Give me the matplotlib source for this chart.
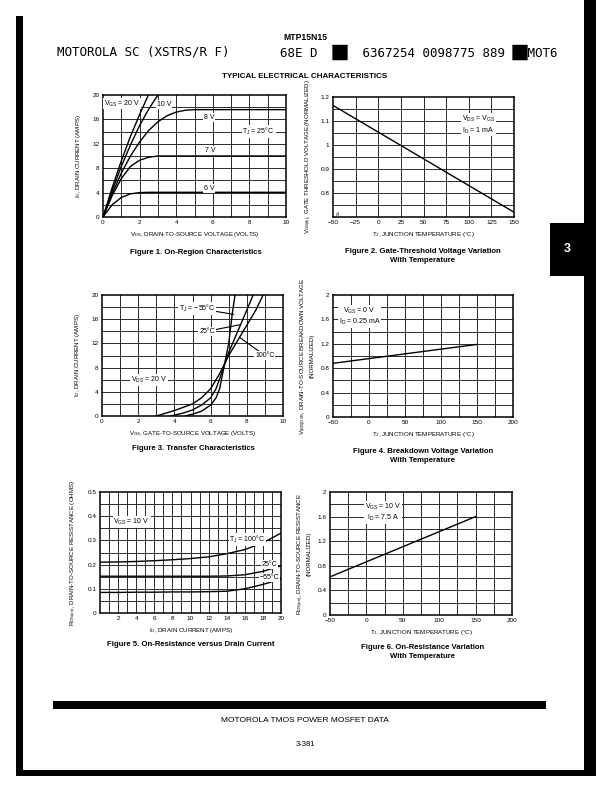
import matplotlib
matplotlib.use("Agg")
import matplotlib.pyplot as plt
from matplotlib.patches import Rectangle
import numpy as np

plt.rcParams['font.family'] = ['Liberation Sans', 'DejaVu Sans']
plt.rcParams['mathtext.default'] = 'regular'

# ---------------- Data ----------------
# Figure 1: On-region characteristics (VDS volts, ID amps)
f1_vds_20 = [0, 0.5, 1.0, 1.5, 2.0, 2.48]
f1_id_20 = [0, 4.8, 9.2, 13.2, 16.8, 20.0]
f1_vds_10 = [0, 0.5, 1.0, 1.5, 2.0, 2.5, 3.0]
f1_id_10 = [0, 4.3, 8.3, 11.8, 15.0, 17.7, 20.0]
f1_vds_8 = [0, 0.5, 1.0, 1.5, 2.0, 2.5, 3.0, 3.5, 4.0, 4.5, 5.0, 10.0]
f1_id_8 = [0, 3.8, 7.2, 10.0, 12.3, 14.2, 15.6, 16.6, 17.2, 17.5, 17.6, 17.6]
f1_vds_7 = [0, 0.5, 1.0, 1.5, 2.0, 2.5, 3.0, 10.0]
f1_id_7 = [0, 3.5, 6.3, 8.3, 9.3, 9.8, 10.0, 10.0]
f1_vds_6 = [0, 0.5, 1.0, 1.5, 2.0, 2.5, 10.0]
f1_id_6 = [0, 2.0, 3.2, 3.8, 4.0, 4.05, 4.05]

# Figure 2: gate threshold vs temperature
f2_tj = [-50, 150]
f2_vth = [1.165, 0.72]

# Figure 3: transfer characteristics (VGS volts, ID amps)
f3_vgs_m55 = [4.6, 5.0, 5.5, 6.0, 6.3, 6.5, 6.7, 7.0, 7.2, 7.35]
f3_id_m55 = [0, 0.3, 0.8, 1.8, 3.0, 4.5, 7.5, 12.0, 17.0, 20.0]
f3_vgs_25 = [3.8, 4.5, 5.0, 5.5, 6.0, 6.3, 6.6, 7.0, 7.5, 8.0, 8.35]
f3_id_25 = [0, 0.5, 1.0, 1.8, 3.0, 4.5, 7.0, 10.5, 14.0, 17.5, 20.0]
f3_vgs_100 = [3.0, 4.0, 5.0, 5.5, 6.0, 6.5, 7.0, 7.5, 8.0, 8.5, 8.9]
f3_id_100 = [0, 0.9, 2.0, 3.0, 4.5, 7.0, 10.0, 12.5, 15.0, 17.5, 20.0]

# Figure 4: breakdown voltage vs temperature
f4_tj = [-50, 150]
f4_bv = [0.88, 1.19]

# Figure 5: on-resistance vs drain current
f5_id = [0, 2, 4, 6, 8, 10, 12, 14, 16, 18, 20]
f5_r_100 = [0.210, 0.211, 0.213, 0.216, 0.220, 0.225, 0.232, 0.245, 0.262, 0.290, 0.330]
f5_r_25 = [0.152, 0.152, 0.152, 0.152, 0.152, 0.152, 0.152, 0.153, 0.158, 0.172, 0.195]
f5_r_m55 = [0.085, 0.085, 0.086, 0.086, 0.087, 0.087, 0.088, 0.090, 0.100, 0.118, 0.140]

# Figure 6: on-resistance vs temperature
f6_tj = [-50, 150]
f6_r = [0.62, 1.6]

W, H = 612, 792
fig = plt.figure(figsize=(W / 100, H / 100), dpi=100)

def px_axes(l, t, r, b):
    return fig.add_axes([l / W, 1 - b / H, (r - l) / W, (b - t) / H])

GRID = dict(color='#2a2a2a', linewidth=0.7)
TICKFS = 4.6
LABFS = 4.4
ANNFS = 5.0
BOX = dict(facecolor='white', edgecolor='none', pad=0.6)

def style(ax, xlim, ylim, xticks, yticks, xgrid, ygrid, xtl=None, ytl=None):
    ax.set_xlim(*xlim)
    ax.set_ylim(*ylim)
    ax.set_xticks(xticks)
    ax.set_yticks(yticks)
    if xtl is not None:
        ax.set_xticklabels(xtl)
    if ytl is not None:
        ax.set_yticklabels(ytl)
    for g in xgrid:
        ax.axvline(g, zorder=0, **GRID)
    for g in ygrid:
        ax.axhline(g, zorder=0, **GRID)
    ax.tick_params(length=0, labelsize=TICKFS, pad=2.5)
    for s in ax.spines.values():
        s.set_linewidth(1.1)
        s.set_color('black')

LW = 1.0

# ---- Figure 1 ----
ax1 = px_axes(103, 95, 286, 217)
style(ax1, (0, 10), (0, 20), [0, 2, 4, 6, 8, 10], [0, 4, 8, 12, 16, 20],
      np.arange(1, 10), np.arange(2, 20, 2))
for xs, ys in [(f1_vds_20, f1_id_20), (f1_vds_10, f1_id_10), (f1_vds_8, f1_id_8),
               (f1_vds_7, f1_id_7), (f1_vds_6, f1_id_6)]:
    ax1.plot(xs, ys, color='black', lw=LW, clip_on=True)
ax1.text(1.05, 18.6, r"V$_{GS}$ = 20 V", fontsize=ANNFS, ha='center', va='center', bbox=BOX)
ax1.text(3.35, 18.4, "10 V", fontsize=ANNFS, ha='center', va='center', bbox=BOX)
ax1.text(5.8, 16.35, "8 V", fontsize=ANNFS, ha='center', va='center', bbox=BOX)
ax1.text(8.5, 14.0, r"T$_J$ = 25°C", fontsize=ANNFS, ha='center', va='center', bbox=BOX)
ax1.text(5.85, 10.85, "7 V", fontsize=ANNFS, ha='center', va='center', bbox=BOX)
ax1.text(5.8, 4.7, "6 V", fontsize=ANNFS, ha='center', va='center', bbox=BOX)
ax1.set_xlabel(r"V$_{DS}$, DRAIN-TO-SOURCE VOLTAGE (VOLTS)", fontsize=LABFS, labelpad=3)
ax1.set_ylabel(r"I$_D$, DRAIN CURRENT (AMPS)", fontsize=LABFS, labelpad=7)

# ---- Figure 2 ----
ax2 = px_axes(333, 97, 514, 217)
style(ax2, (-50, 150), (0.7, 1.2), np.arange(-50, 151, 25), [0.8, 0.9, 1.0, 1.1, 1.2],
      np.arange(-25, 150, 25), np.arange(0.75, 1.2, 0.05),
      xtl=["\u221250", "\u221225", "0", "25", "50", "75", "100", "125", "150"],
      ytl=["0.8", "0.9", "1", "1.1", "1.2"])
ax2.plot(f2_tj, f2_vth, color='black', lw=LW)
ax2.text(-47, 0.715, "\u2248", fontsize=5, ha='left', va='center', rotation=90)
ax2.text(92, 1.085, r"V$_{DS}$ = V$_{GS}$" "\n" r"I$_D$ = 1 mA", fontsize=ANNFS,
         ha='left', va='center', linespacing=1.2, bbox=BOX)
ax2.set_xlabel(r"T$_J$, JUNCTION TEMPERATURE (°C)", fontsize=LABFS, labelpad=3)
ax2.set_ylabel(r"V$_{GS(th)}$, GATE THRESHOLD VOLTAGE (NORMALIZED)", fontsize=LABFS, labelpad=5)

# ---- Figure 3 ----
ax3 = px_axes(102, 295, 283, 416)
style(ax3, (0, 10), (0, 20), [0, 2, 4, 6, 8, 10], [0, 4, 8, 12, 16, 20],
      np.arange(1, 10), np.arange(2, 20, 2))
for xs, ys in [(f3_vgs_m55, f3_id_m55), (f3_vgs_25, f3_id_25), (f3_vgs_100, f3_id_100)]:
    ax3.plot(xs, ys, color='black', lw=LW)
AP = dict(arrowstyle='-', color='black', lw=0.8, shrinkA=0, shrinkB=0)
ax3.annotate("T$_J$ = \u221255°C", xy=(7.28, 16.8), xytext=(5.25, 17.8), fontsize=ANNFS,
             ha='center', va='center', bbox=BOX, arrowprops=AP)
ax3.annotate("25°C", xy=(7.64, 15.1), xytext=(5.8, 14.0), fontsize=ANNFS,
             ha='center', va='center', bbox=BOX, arrowprops=AP)
ax3.annotate("100°C", xy=(7.6, 13.0), xytext=(9.0, 10.0), fontsize=ANNFS,
             ha='center', va='center', bbox=BOX, arrowprops=AP)
ax3.text(2.6, 5.9, r"V$_{DS}$ = 20 V", fontsize=ANNFS, ha='center', va='center', bbox=BOX)
ax3.set_xlabel(r"V$_{GS}$, GATE-TO-SOURCE VOLTAGE (VOLTS)", fontsize=LABFS, labelpad=3)
ax3.set_ylabel(r"I$_D$, DRAIN CURRENT (AMPS)", fontsize=LABFS, labelpad=7)

# ---- Figure 4 ----
ax4 = px_axes(333, 295, 513, 417)
style(ax4, (-50, 200), (0, 2), np.arange(-50, 201, 50), [0, 0.4, 0.8, 1.2, 1.6, 2.0],
      np.arange(-25, 200, 25), np.arange(0.2, 2.0, 0.2),
      xtl=["\u221250", "0", "50", "100", "150", "200"],
      ytl=["0", "0.4", "0.8", "1.2", "1.6", "2"])
ax4.plot(f4_tj, f4_bv, color='black', lw=LW)
ax4.text(-13, 1.65, r"V$_{GS}$ = 0 V" "\n" r"I$_D$ = 0.25 mA", fontsize=ANNFS,
         ha='center', va='center', linespacing=1.2, bbox=BOX)
ax4.set_xlabel(r"T$_J$, JUNCTION TEMPERATURE (°C)", fontsize=LABFS, labelpad=3)
ax4.set_ylabel(r"V$_{(BR)DSS}$, DRAIN-TO-SOURCE BREAKDOWN VOLTAGE" "\n" "(NORMALIZED)",
               fontsize=LABFS, labelpad=4, linespacing=1.2)

# ---- Figure 5 ----
ax5 = px_axes(100, 492, 281, 613)
style(ax5, (0, 20), (0, 0.5), np.arange(2, 21, 2), [0, 0.1, 0.2, 0.3, 0.4, 0.5],
      np.arange(1, 20), np.arange(0.05, 0.5, 0.05),
      ytl=["0", "0.1", "0.2", "0.3", "0.4", "0.5"])
for ys in [f5_r_100, f5_r_25, f5_r_m55]:
    ax5.plot(f5_id, ys, color='black', lw=LW)
ax5.text(3.5, 0.376, r"V$_{GS}$ = 10 V", fontsize=ANNFS, ha='center', va='center', bbox=BOX)
ax5.text(16.3, 0.304, r"T$_J$ = 100°C", fontsize=ANNFS, ha='center', va='center', bbox=BOX)
ax5.text(18.7, 0.200, "25°C", fontsize=ANNFS, ha='center', va='center', bbox=BOX)
ax5.text(18.7, 0.147, "\u221255°C", fontsize=ANNFS, ha='center', va='center', bbox=BOX)
ax5.set_xlabel(r"I$_D$, DRAIN CURRENT (AMPS)", fontsize=LABFS, labelpad=3)
ax5.set_ylabel(r"R$_{DS(on)}$, DRAIN-TO-SOURCE RESISTANCE (OHMS)", fontsize=LABFS, labelpad=6)

# ---- Figure 6 ----
ax6 = px_axes(330, 492, 512, 615)
style(ax6, (-50, 200), (0, 2), np.arange(-50, 201, 50), [0, 0.4, 0.8, 1.2, 1.6, 2.0],
      np.arange(-25, 200, 25), np.arange(0.2, 2.0, 0.2),
      xtl=["\u221250", "0", "50", "100", "150", "200"],
      ytl=["0", "0.4", "0.8", "1.2", "1.6", "2"])
ax6.plot(f6_tj, f6_r, color='black', lw=LW)
ax6.text(23, 1.67, r"V$_{GS}$ = 10 V" "\n" r"I$_D$ = 7.5 A", fontsize=ANNFS,
         ha='center', va='center', linespacing=1.2, bbox=BOX)
ax6.set_xlabel(r"T$_J$, JUNCTION TEMPERATURE (°C)", fontsize=LABFS, labelpad=3)
ax6.set_ylabel(r"R$_{DS(on)}$, DRAIN-TO-SOURCE RESISTANCE" "\n" "(NORMALIZED)",
               fontsize=LABFS, labelpad=4, linespacing=1.2)

# ---------------- Captions and page text ----------------
def ftext(x, y, s, **kw):
    fig.text(x / W, 1 - y / H, s, **kw)

CAP = dict(fontsize=5.6, fontweight='bold', ha='center', va='center', linespacing=1.3)
ftext(196, 252, "Figure 1. On-Region Characteristics", **CAP)
ftext(423, 256, "Figure 2. Gate-Threshold Voltage Variation\nWith Temperature", **CAP)
ftext(193, 449, "Figure 3. Transfer Characteristics", **CAP)
ftext(423, 456, "Figure 4. Breakdown Voltage Variation\nWith Temperature", **CAP)
ftext(191, 645, "Figure 5. On-Resistance versus Drain Current", **CAP)
ftext(423, 652, "Figure 6. On-Resistance Variation\nWith Temperature", **CAP)

ftext(305, 37, "MTP15N15", fontsize=6.2, fontweight='bold', ha='center', va='center')
ftext(57, 52, "MOTOROLA SC (XSTRS/R F)", fontsize=9, family='DejaVu Sans Mono',
      ha='left', va='center')
ftext(280, 52, "68E D  \u2588\u2588  6367254 0098775 889 \u2588\u2588MOT6", fontsize=9,
      family='DejaVu Sans Mono', ha='left', va='center')
ftext(305, 76, "TYPICAL ELECTRICAL CHARACTERISTICS", fontsize=5.8, fontweight='bold',
      ha='center', va='center')
ftext(305, 720, "MOTOROLA TMOS POWER MOSFET DATA", fontsize=6.0, ha='center', va='center')
ftext(305, 745, "3-381", fontsize=5.5, ha='center', va='center')

def frect(x0, y0, x1, y1, color='black'):
    fig.add_artist(Rectangle((x0 / W, 1 - y1 / H), (x1 - x0) / W, (y1 - y0) / H,
                             transform=fig.transFigure, facecolor=color,
                             edgecolor='none', zorder=10))

frect(16, 16, 23, 776)      # left page edge
frect(584, 0, 596, 776)     # right page edge
frect(16, 770, 596, 776)    # bottom page edge
frect(550, 223, 584, 276)   # section tab
frect(53, 701, 546, 709)    # footer rule
fig.text(567 / W, 1 - 249 / H, "3", color='white', fontsize=9, fontweight='bold',
         ha='center', va='center', zorder=11)

fig.savefig("out.png", dpi=100)
